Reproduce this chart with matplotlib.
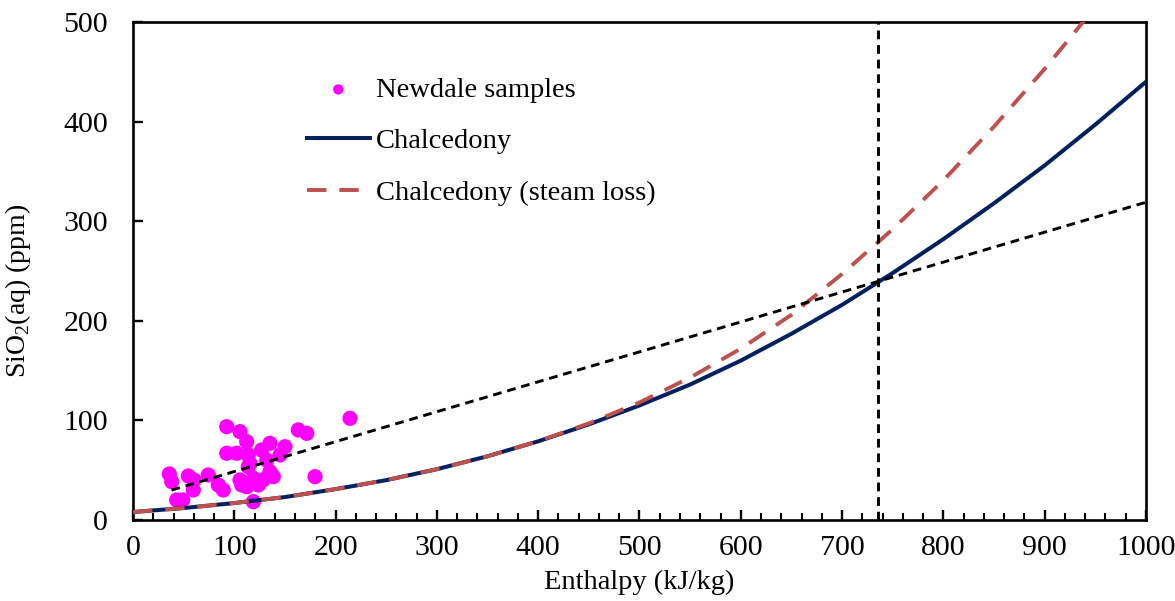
import matplotlib
matplotlib.use("Agg")
import matplotlib.pyplot as plt
from matplotlib.ticker import MultipleLocator

plt.rcParams["font.family"] = ["Liberation Serif", "DejaVu Serif"]
plt.rcParams["mathtext.fontset"] = "custom"
plt.rcParams["mathtext.rm"] = "Liberation Serif"

# Newdale samples: enthalpy (kJ/kg) and dissolved silica (ppm)
sample_enthalpy = [35.8, 38.2, 54.6, 60.2, 59.5, 43.1, 49.1, 74.3, 84.2, 89.1,
                   92.5, 92.5, 105.6, 102.4, 112.2, 113.8, 113.8, 105.6, 107.3, 112.2,
                   118.8, 115.5, 118.8, 123.7, 127.0, 135.2, 132.0, 135.2, 138.5, 128.6,
                   145.1, 150.0, 163.2, 171.5, 179.7, 214.2]
sample_silica = [46.2, 38.5, 44.2, 40.2, 30.1, 20.1, 20.1, 45.2, 35.1, 30.1,
                 93.7, 67.0, 88.7, 67.0, 78.6, 65.3, 53.5, 40.2, 35.1, 33.4,
                 41.9, 56.9, 18.4, 35.1, 70.3, 77.0, 60.2, 48.5, 43.5, 40.2,
                 65.3, 73.6, 90.4, 87.0, 43.5, 102.1]

# Chalcedony solubility curve
chal_enthalpy = [0, 50, 100, 150, 200, 250, 300, 350, 400, 450, 500, 550,
                 600, 650, 700, 750, 800, 850, 900, 950, 1000]
chal_silica = [8, 12, 17, 23, 31, 40, 51, 64, 79, 96, 115, 136,
               160, 187, 216, 248, 282, 318, 356, 397, 440]

# Chalcedony with steam loss
steam_enthalpy = [0, 50, 100, 150, 200, 250, 300, 350, 400, 450, 500, 550,
                  600, 650, 700, 750, 800, 850, 900, 950]
steam_silica = [8, 12, 17, 23, 31, 40, 51, 64, 79, 97, 118, 143,
                172, 206, 247, 292, 341, 395, 453, 515]

# Mixing line and its intersection enthalpy
mix_enthalpy = [38, 1000]
mix_silica = [30, 319]
intersect_enthalpy = 735

fig = plt.figure(figsize=(11.75, 6.01), dpi=100)
ax = fig.add_axes([0.1132, 0.1348, 0.8621, 0.8286])

ax.scatter(sample_enthalpy, sample_silica, s=120, color="#FF00FF",
           edgecolors="none", zorder=2, label="Newdale samples")
ax.plot(chal_enthalpy, chal_silica, color="#002060", lw=2.9, zorder=3,
        label="Chalcedony")
ax.plot(steam_enthalpy, steam_silica, color="#C0504D", lw=2.8, zorder=4,
        dashes=(5, 3.3), label="Chalcedony (steam loss)")
ax.plot(mix_enthalpy, mix_silica, color="black", lw=2.1, dashes=(3.0, 2.0),
        zorder=5)
ax.plot([intersect_enthalpy, intersect_enthalpy], [0, 500], color="black",
        lw=2.1, dashes=(3.0, 2.0), zorder=5)

ax.set_xlim(0, 1000)
ax.set_ylim(0, 500)
ax.xaxis.set_major_locator(MultipleLocator(100))
ax.xaxis.set_minor_locator(MultipleLocator(20))
ax.yaxis.set_major_locator(MultipleLocator(100))

for s in ax.spines.values():
    s.set_linewidth(1.9)
ax.tick_params(axis="both", which="major", direction="in", length=7, width=1.7,
               labelsize=21.5)
ax.tick_params(axis="x", which="major", pad=11)
ax.tick_params(axis="x", which="minor", direction="in", length=5, width=1.5)
ax.tick_params(axis="y", pad=18)

ax.set_xlabel("Enthalpy (kJ/kg)", fontsize=20.5)
ax.set_ylabel(r"SiO$_2$(aq) (ppm)", fontsize=20)
ax.xaxis.set_label_coords(0.5, -0.1)
ax.yaxis.set_label_coords(-0.0987, 0.46)

ax.legend(loc="upper left", bbox_to_anchor=(0.1605, 0.9125), frameon=False,
          fontsize=20.5, handlelength=2.2, handletextpad=0.21, labelspacing=0.9,
          scatterpoints=1, markerscale=0.68, borderaxespad=0)

fig.savefig("out.png", dpi=100)
